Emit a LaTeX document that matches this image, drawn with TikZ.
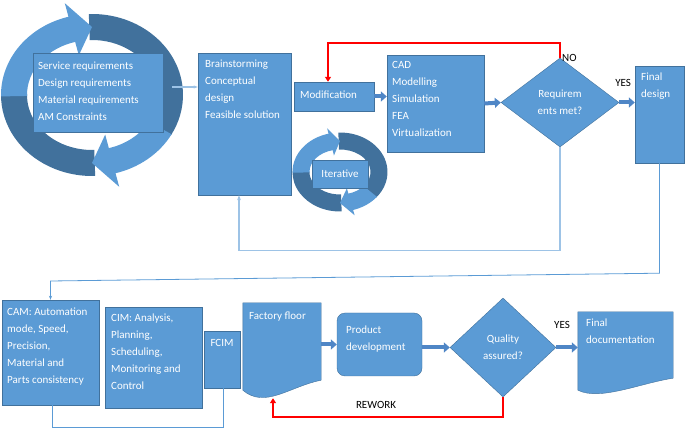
\documentclass[tikz,border=0pt]{standalone}
\usepackage{fontspec}
\setmainfont{Carlito}
\usetikzlibrary{shapes.geometric,arrows.meta,calc}

\definecolor{boxblue}{HTML}{5B9BD5}
\definecolor{boxdark}{HTML}{41719C}
\definecolor{linklite}{HTML}{9DC3E6}
\definecolor{arrowblue}{HTML}{4F86C6}

% полоса кольца: центр, от, до, rx, ry, полуширина, цвет
\newcommand{\ringband}[7]{%
  \pgfmathsetmacro{\rxo}{#4+#6}\pgfmathsetmacro{\ryo}{#5+#6}%
  \pgfmathsetmacro{\rxi}{#4-#6}\pgfmathsetmacro{\ryi}{#5-#6}%
  \fill[#7] ($(#1)+({\rxo*cos(#2)},{\ryo*sin(#2)})$) arc[start angle=#2, end angle=#3, x radius=\rxo, y radius=\ryo]
    -- ($(#1)+({\rxi*cos(#3)},{\ryi*sin(#3)})$) arc[start angle=#3, end angle=#2, x radius=\rxi, y radius=\ryi] -- cycle;}
% головка стрелки: центр, основание, острие, rx, ry, полуширина, цвет
\newcommand{\ringhead}[7]{%
  \pgfmathsetmacro{\rxo}{#4+#6}\pgfmathsetmacro{\ryo}{#5+#6}%
  \pgfmathsetmacro{\rxi}{#4-#6}\pgfmathsetmacro{\ryi}{#5-#6}%
  \fill[#7] ($(#1)+({\rxo*cos(#2)},{\ryo*sin(#2)})$) -- ($(#1)+({#4*cos(#3)},{#5*sin(#3)})$)
    -- ($(#1)+({\rxi*cos(#2)},{\ryi*sin(#2)})$) -- cycle;}

\begin{document}
\begin{tikzpicture}[x=1pt,y=1pt,
  box/.style={fill=boxblue, draw=boxdark, line width=0.4pt, inner sep=0pt},
  txt/.style={text=white, font=\fontsize{11}{17}\selectfont, align=left, inner sep=0pt, anchor=north west},
  dtxt/.style={text=white, font=\fontsize{11}{17}\selectfont, align=center},
  lbl/.style={font=\fontsize{11}{13}\selectfont, inner sep=1pt},
  blockarrow/.style={draw=arrowblue, line width=4pt, -{Triangle[length=6pt, width=10pt]}},
  link/.style={draw=boxblue, line width=0.8pt},
  lite/.style={draw=linklite, line width=1.2pt},
  rework/.style={draw=red, line width=1.5pt, -{Triangle[length=5pt, width=6pt]}}]

\useasboundingbox (0,0) rectangle (685,431);

% Кольцо вокруг требований
\ringband{92,336}{272}{179}{78}{68}{13}{boxdark}
\ringband{92,336}{92}{-30}{78}{68}{13}{boxdark}
\ringband{92,336}{181}{104}{78}{68}{13}{boxblue}
\ringhead{92,336}{105}{90}{78}{68}{27}{boxblue}
\ringband{92,336}{-29}{-76}{78}{68}{13}{boxblue}
\ringhead{92,336}{-75}{-90}{78}{68}{27}{boxblue}

\node[box, minimum width=130pt, minimum height=79pt] (reqs) at (98,338.5) {};
\node[txt] (reqstxt) at (38,369) {Service requirements\\Design requirements\\Material requirements\\AM Constraints};

% Верхний ряд
\node[box, minimum width=93pt, minimum height=142pt] (brain) at (244.5,307) {};
\node[txt] (braintxt) at (205,371) {Brainstorming\\Conceptual\\design\\Feasible solution};

\node[box, minimum width=80pt, minimum height=29pt] (modif) at (334,334.5) {};
\node[txt, anchor=west] (modiftxt) at (300,336) {Modification};

\node[box, minimum width=97pt, minimum height=97pt] (cad) at (435.5,327.5) {};
\node[txt] (cadtxt) at (392,370) {CAD\\Modelling\\Simulation\\FEA\\Virtualization};

\node[box, diamond, minimum width=118pt, minimum height=89pt, dtxt] (reqmet) at (560,328.5) {Requirem\\ents met?};

\node[box, minimum width=49pt, minimum height=97pt] (final) at (659.5,316.5) {};
\node[txt] (finaltxt) at (641,358) {Final\\design};

% Малое кольцо
\ringband{340,259}{272}{179}{39}{31}{8.5}{boxdark}
\ringband{340,259}{92}{-40}{39}{31}{8.5}{boxdark}
\ringband{340,259}{181}{103}{39}{31}{8.5}{boxblue}
\ringhead{340,259}{104}{90}{39}{31}{14}{boxblue}
\ringband{340,259}{-39}{-75}{39}{31}{8.5}{boxblue}
\ringhead{340,259}{-74}{-90}{39}{31}{14}{boxblue}
\node[box, minimum width=56pt, minimum height=28pt, dtxt] (iter) at (340,257) {Iterative};

% Нижний ряд
\node[box, minimum width=97pt, minimum height=105pt] (cam) at (50.5,78.5) {};
\node[txt] (camtxt) at (7,123) {CAM: Automation\\mode, Speed,\\Precision,\\Material and\\Parts consistency};

\node[box, minimum width=97pt, minimum height=101pt] (cim) at (153.5,73.5) {};
\node[txt] (cimtxt) at (111,117) {CIM: Analysis,\\Planning,\\Scheduling,\\Monitoring and\\Control};

\node[box, minimum width=36pt, minimum height=57pt] (fcim) at (222,71.5) {};
\node[dtxt, inner sep=0pt] (fcimtxt) at ([yshift=-12]fcim.north) {FCIM};

\node[minimum width=78pt, minimum height=95pt, inner sep=0pt] (floor) at (282,80.5) {};
\fill[boxblue, draw=boxdark, line width=0.4pt] (floor.north west) -- (floor.north east) -- ([yshift=18]floor.south east)
  .. controls ([shift={(-31,12)}]floor.south east) and ([shift={(-17,-11)}]floor.south) .. ([yshift=8]floor.south west) -- cycle;
\node[txt] (floortxt) at (249,119) {Factory floor};

\node[box, rounded corners=8pt, minimum width=85pt, minimum height=63pt] (prod) at (379.5,86.5) {};
\node[txt] (prodtxt) at (346,105) {Product\\development};

\node[box, diamond, minimum width=106pt, minimum height=99pt, dtxt] (quality) at (503,83.5) {Quality\\assured?};

\node[minimum width=95pt, minimum height=82pt, inner sep=0pt] (findoc) at (625.5,78) {};
\fill[boxblue, draw=boxdark, line width=0.4pt] (findoc.north west) -- (findoc.north east) -- ([yshift=16]findoc.south east)
  .. controls ([shift={(-33,11)}]findoc.south east) and ([shift={(-25.5,-7)}]findoc.south) .. ([yshift=4]findoc.south west) -- cycle;
\node[txt] (findoctxt) at (586,112) {Final\\documentation};

% Связи
\coordinate (r1) at ([shift={(9,5.5)}]reqs.east);
\draw[lite, -{Stealth[length=4pt]}] (r1) -- (r1 -| brain.west);

\draw[blockarrow] (modif.east) -- (modif.east -| cad.west);
\draw[blockarrow] (cad.east) -- (reqmet.west);
\draw[blockarrow] (reqmet.east) -- (reqmet.east -| final.west);
\draw[blockarrow] (prod.west -| floor.east) -- (prod.west);
\draw[blockarrow] (quality.west -| prod.east) -- (quality.west);
\draw[blockarrow] (quality.east) -- (quality.east -| findoc.west);

\draw[rework] (reqmet.north) -- ++(0,15) -| ([xshift=-6]modif.north);
\node[lbl, anchor=west] (no) at ([xshift=1]reqmet.north) {NO};
\node[lbl] (yes1) at ([shift={(4,20)}]reqmet.east) {YES};

\draw[lite, -{Stealth[length=5pt]}] (reqmet.south) -- ++(0,-103) -| ([xshift=-5.5]brain.south);

\coordinate (c1) at ([yshift=-110]final.south);
\coordinate (c2) at (50.5,150);
\draw[link, -{Stealth[length=4pt]}] (final.south) -- (c1) -- (c2) -- (cam.north);

\draw[link] ([xshift=1.5]cam.south) -- ++(0,-22) -| ([xshift=1]fcim.south);

\draw[rework] (quality.south) -- ++(0,-20) -| ([xshift=-9]floor.south);
\node[lbl] (rw) at (376,26) {REWORK};
\node[lbl] (yes2) at (562,106) {YES};
\end{tikzpicture}
\end{document}
